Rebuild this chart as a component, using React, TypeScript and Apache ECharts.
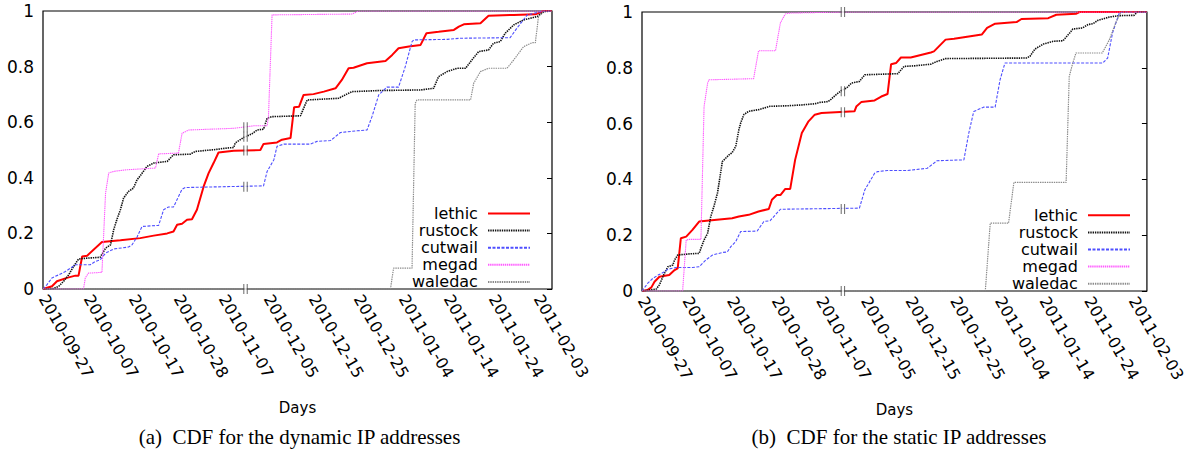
import React, { useEffect, useRef } from 'react';
import * as echarts from 'echarts';

// ---------- data ----------
const TICK_LABELS = ['2010-09-27', '2010-10-07', '2010-10-17', '2010-10-28', '2010-11-07', '2010-12-05', '2010-12-15', '2010-12-25', '2011-01-04', '2011-01-14', '2011-01-24', '2011-02-03'];
const X_MAX = 11.31; // axis extends slightly past last tick
const BREAK_X = 4.5; // axis break between 2010-11-07 and 2010-12-05
const SERIES_NAMES = ['lethic', 'rustock', 'cutwail', 'megad', 'waledac'];
const CAPTIONS = ['(a)  CDF for the dynamic IP addresses', '(b)  CDF for the static IP addresses'];
const X_NAME = 'Days';

// (a) dynamic IP addresses: [tick position, CDF]
const dynLethic = [[0,0],[0.2,0.01],[0.31,0.028],[0.53,0.04],[0.72,0.048],[0.79,0.048],[0.87,0.117],[0.98,0.12],[1.31,0.169],[1.72,0.175],[2.16,0.183],[2.46,0.192],[2.76,0.2],[2.9,0.207],[2.98,0.231],[3.09,0.235],[3.2,0.249],[3.31,0.251],[3.42,0.285],[3.57,0.369],[3.68,0.417],[3.79,0.453],[3.9,0.491],[4.24,0.497],[4.83,0.5],[4.9,0.522],[5.2,0.527],[5.31,0.537],[5.5,0.543],[5.58,0.654],[5.69,0.656],[5.79,0.698],[6.01,0.701],[6.24,0.71],[6.5,0.722],[6.64,0.752],[6.79,0.794],[6.9,0.796],[7.2,0.812],[7.61,0.82],[7.76,0.842],[7.9,0.866],[8.13,0.872],[8.39,0.878],[8.52,0.92],[8.79,0.925],[9.13,0.932],[9.24,0.944],[9.35,0.952],[9.72,0.956],[9.9,0.983],[10.46,0.986],[10.94,0.988],[11.13,1.0],[11.31,1.0]];
const dynRustock = [[0,0],[0.24,0.002],[0.35,0.01],[0.46,0.028],[0.57,0.051],[0.68,0.081],[0.79,0.108],[0.98,0.111],[1.27,0.114],[1.39,0.147],[1.5,0.159],[1.57,0.213],[1.64,0.249],[1.72,0.285],[1.79,0.327],[1.9,0.351],[2.01,0.363],[2.09,0.393],[2.16,0.407],[2.31,0.441],[2.46,0.453],[2.76,0.459],[2.9,0.483],[3.27,0.485],[3.39,0.495],[3.79,0.501],[4.09,0.507],[4.24,0.509],[4.27,0.525],[4.46,0.545],[4.64,0.558],[4.76,0.572],[4.9,0.575],[4.98,0.614],[5.09,0.62],[5.72,0.623],[5.87,0.68],[6.57,0.686],[6.75,0.701],[6.87,0.71],[7.5,0.714],[8.39,0.716],[8.68,0.722],[8.79,0.764],[8.98,0.782],[9.2,0.794],[9.39,0.794],[9.53,0.824],[9.68,0.854],[9.9,0.86],[10.01,0.884],[10.16,0.89],[10.27,0.92],[10.46,0.95],[10.68,0.968],[10.98,0.98],[11.13,0.998],[11.31,1.0]];
const dynCutwail = [[0,0],[0.09,0.016],[0.2,0.04],[0.35,0.051],[0.5,0.063],[0.61,0.075],[0.72,0.087],[1.05,0.087],[1.16,0.099],[1.27,0.105],[1.39,0.129],[1.57,0.144],[1.9,0.151],[1.98,0.159],[2.09,0.187],[2.2,0.225],[2.57,0.229],[2.68,0.285],[2.79,0.295],[2.9,0.295],[3.09,0.359],[3.16,0.365],[4.9,0.371],[4.98,0.423],[5.13,0.465],[5.2,0.513],[5.35,0.521],[5.94,0.521],[6.09,0.531],[6.39,0.534],[6.61,0.563],[6.98,0.569],[7.2,0.572],[7.31,0.62],[7.46,0.698],[7.64,0.726],[7.9,0.726],[8.05,0.8],[8.2,0.89],[8.24,0.896],[8.98,0.898],[9.27,0.902],[10.38,0.904],[10.53,0.938],[10.76,0.986],[11.13,1.0],[11.31,1.0]];
const dynMegad = [[0,0],[0.9,0],[0.94,0.04],[1.01,0.057],[1.31,0.06],[1.39,0.345],[1.46,0.417],[1.57,0.423],[1.87,0.429],[2.5,0.435],[2.57,0.486],[3.01,0.489],[3.09,0.56],[3.24,0.572],[4.24,0.578],[4.68,0.587],[4.98,0.587],[5.01,0.62],[5.09,0.986],[6.87,0.989],[7.01,1.0],[11.31,1.0]];
const dynWaledac = [[0,0],[7.72,0],[7.79,0.075],[8.2,0.075],[8.27,0.668],[8.31,0.68],[9.5,0.68],[9.57,0.74],[9.72,0.782],[9.9,0.794],[10.31,0.794],[10.46,0.824],[10.68,0.872],[10.87,0.886],[10.94,0.886],[11.01,0.98],[11.13,1.0],[11.31,1.0]];
const dynBreakY = [0.498, 0.548, 0.368, 0.582, 0];

// (b) static IP addresses
const staLethic = [[0,0],[0.13,0.004],[0.21,0.013],[0.28,0.033],[0.39,0.051],[0.61,0.057],[0.73,0.075],[0.8,0.081],[0.87,0.189],[0.99,0.195],[1.13,0.219],[1.28,0.249],[1.39,0.251],[2.02,0.261],[2.17,0.267],[2.39,0.273],[2.61,0.285],[2.84,0.294],[2.91,0.327],[3.02,0.344],[3.1,0.344],[3.21,0.366],[3.32,0.366],[3.43,0.47],[3.58,0.566],[3.73,0.608],[3.87,0.632],[4.02,0.638],[4.76,0.644],[4.8,0.661],[4.91,0.677],[5.21,0.683],[5.36,0.697],[5.5,0.706],[5.58,0.813],[5.69,0.817],[5.8,0.837],[6.02,0.837],[6.47,0.855],[6.54,0.859],[6.8,0.901],[6.99,0.904],[7.43,0.915],[7.61,0.919],[7.73,0.943],[7.91,0.958],[8.39,0.964],[8.5,0.975],[9.1,0.978],[9.28,0.99],[9.73,0.994],[9.8,1.0],[11.31,1.0]];
const staRustock = [[0,0],[0.32,0.007],[0.39,0.022],[0.5,0.063],[0.58,0.087],[0.69,0.093],[0.73,0.111],[0.8,0.129],[1.06,0.133],[1.28,0.135],[1.32,0.153],[1.39,0.183],[1.47,0.207],[1.54,0.267],[1.61,0.303],[1.69,0.35],[1.8,0.464],[1.95,0.488],[2.02,0.496],[2.1,0.518],[2.17,0.578],[2.21,0.602],[2.28,0.632],[2.39,0.644],[2.61,0.65],[2.87,0.662],[3.28,0.664],[3.58,0.667],[3.87,0.671],[3.99,0.676],[4.17,0.679],[4.24,0.688],[4.32,0.7],[4.47,0.719],[4.58,0.727],[4.69,0.745],[4.87,0.751],[4.99,0.775],[5.73,0.779],[5.87,0.805],[6.1,0.807],[6.47,0.813],[6.61,0.823],[6.8,0.833],[8.61,0.835],[8.69,0.841],[8.8,0.867],[8.99,0.885],[9.21,0.895],[9.43,0.897],[9.58,0.925],[9.65,0.939],[9.87,0.943],[9.99,0.955],[10.1,0.958],[10.21,0.97],[10.47,0.982],[10.69,0.987],[11.02,0.988],[11.1,1.0],[11.31,1.0]];
const staCutwail = [[0,0],[0.13,0.028],[0.24,0.045],[0.36,0.057],[0.47,0.066],[0.58,0.078],[0.76,0.084],[1.13,0.084],[1.28,0.087],[1.43,0.111],[1.58,0.129],[1.8,0.138],[1.91,0.14],[1.99,0.159],[2.1,0.177],[2.21,0.213],[2.58,0.215],[2.65,0.231],[2.73,0.249],[2.87,0.252],[3.02,0.279],[3.1,0.293],[4.87,0.297],[4.99,0.362],[5.1,0.392],[5.21,0.422],[5.28,0.428],[5.5,0.432],[5.94,0.432],[6.39,0.44],[6.61,0.467],[7.21,0.47],[7.32,0.566],[7.43,0.643],[7.65,0.659],[7.91,0.659],[8.02,0.757],[8.13,0.817],[10.32,0.817],[10.43,0.835],[10.54,0.925],[10.69,0.996],[10.76,1.0],[11.31,1.0]];
const staMegad = [[0,0],[0.91,0],[0.99,0.183],[1.06,0.185],[1.32,0.185],[1.39,0.661],[1.47,0.745],[1.5,0.757],[2.5,0.761],[2.61,0.861],[2.99,0.861],[3.1,0.961],[3.21,0.993],[3.28,0.996],[4.5,1.0],[11.31,1.0]];
const staWaledac = [[0,0],[7.69,0],[7.8,0.243],[8.21,0.243],[8.33,0.389],[9.5,0.389],[9.57,0.769],[9.65,0.817],[9.72,0.853],[10.31,0.853],[10.47,0.901],[10.61,0.961],[10.73,1.0],[11.31,1.0]];
const staBreakY = [0.641, 0.716, 0.294, 1.0, 0];

const PANELS = [
  { series: [dynLethic, dynRustock, dynCutwail, dynMegad, dynWaledac], breaks: dynBreakY },
  { series: [staLethic, staRustock, staCutwail, staMegad, staWaledac], breaks: staBreakY },
];

// ---------- styles / layout ----------
const SANS = "'DejaVu Sans', sans-serif";
const SERIF = "'Liberation Serif', 'Times New Roman', serif";
const LINE_STYLES: Record<string, any> = {
  lethic: { color: '#ff0000', width: 2, type: 'solid' },
  rustock: { color: '#111111', width: 1.6, type: [1.4, 0.9] },
  cutwail: { color: '#4f4fff', width: 1.1, type: [3, 1.5] },
  megad: { color: '#ff5cff', width: 1.1, type: [1.4, 0.7] },
  waledac: { color: '#8a8a8a', width: 1.2, type: [1.4, 0.9] },
};
const GRIDS = [
  { left: 43, top: 11, width: 509, height: 278, legendTop: 205.5 },
  { left: 642, top: 12, width: 510, height: 279, legendTop: 207.3 },
];

function buildOption() {
  const grid: any[] = [];
  const xAxis: any[] = [];
  const yAxis: any[] = [];
  const series: any[] = [];
  const legend: any[] = [];
  const graphic: any[] = [];

  GRIDS.forEach((g, gi) => {
    grid.push({ left: g.left, top: g.top, width: g.width, height: g.height, show: true, borderColor: '#000', borderWidth: 1.2, backgroundColor: 'transparent', containLabel: false });
    xAxis.push({
      type: 'value', gridIndex: gi, min: 0, max: X_MAX, interval: 1,
      axisLine: { show: false }, axisTick: { show: false }, splitLine: { show: false },
      axisLabel: {
        rotate: -60, margin: 7, fontSize: 16, color: '#000', fontFamily: SANS,
        showMaxLabel: false,
        formatter: (v: number) => (Number.isInteger(v) && TICK_LABELS[v]) ? TICK_LABELS[v] : '',
      },
      name: X_NAME, nameLocation: 'middle', nameGap: 111,
      nameTextStyle: { fontSize: 15, color: '#000', fontFamily: SANS },
    });
    yAxis.push({
      type: 'value', gridIndex: gi, min: 0, max: 1, interval: 0.2, position: 'left',
      axisLine: { show: false }, axisTick: { show: false }, splitLine: { show: false },
      axisLabel: { fontSize: 17, color: '#000', fontFamily: SANS, margin: 9 },
    });
    yAxis.push({
      type: 'value', gridIndex: gi, min: 0, max: 1, interval: 0.2, position: 'right',
      axisLine: { show: false }, splitLine: { show: false }, axisLabel: { show: false },
      axisTick: { show: true, inside: true, length: 5, lineStyle: { color: '#000', width: 1 } },
    });

    const panel = PANELS[gi];
    SERIES_NAMES.forEach((name, si) => {
      const ls = LINE_STYLES[name];
      series.push({
        type: 'line', name, xAxisIndex: gi, yAxisIndex: gi * 2,
        data: panel.series[si], showSymbol: false, symbol: 'none',
        lineStyle: { color: ls.color, width: ls.width, type: ls.type },
        itemStyle: { color: ls.color },
        z: 2 + si * 0.01,
      });
    });
    const breakData = panel.breaks.map((y) => [BREAK_X, y]);
    series.push({
      type: 'scatter', name: 'break-bg', xAxisIndex: gi, yAxisIndex: gi * 2,
      data: breakData, symbol: 'rect', symbolSize: [2.5, 9],
      itemStyle: { color: '#ffffff' }, z: 5, silent: true,
    });
    series.push({
      type: 'scatter', name: 'break', xAxisIndex: gi, yAxisIndex: gi * 2,
      data: breakData, symbol: 'path://M0,0h1v10h-1zM3.4,0h1v10h-1z', symbolSize: [4.4, 10],
      itemStyle: { color: '#444444' }, z: 6, silent: true,
    });

    const iconRight = g.left + g.width - 21;
    SERIES_NAMES.forEach((name, si) => {
      legend.push({
        data: [name], orient: 'vertical', align: 'right',
        right: 1188 - iconRight, top: g.legendTop + si * 17.1, padding: 0,
        itemWidth: 42, itemHeight: 10,
        itemStyle: { color: 'transparent', borderColor: 'transparent', borderWidth: 0 },
        formatter: (n: string) => n + ' ',
        textStyle: { fontSize: 16, color: '#000', fontFamily: SANS },
        selectedMode: false,
      });
    });

    graphic.push({
      type: 'text', x: g.left + g.width / 2 + 2, y: 437,
      style: { text: CAPTIONS[gi], fill: '#000', font: `21px ${SERIF}`, textAlign: 'center', textVerticalAlign: 'middle' },
    });
  });

  return { animation: false, backgroundColor: '#ffffff', grid, xAxis, yAxis, series, legend, graphic };
}

export default function App() {
  const ref = useRef<HTMLDivElement>(null);
  useEffect(() => {
    if (!ref.current) return;
    const chart = echarts.init(ref.current, undefined, { renderer: 'svg' });
    chart.setOption(buildOption() as any);
    return () => chart.dispose();
  }, []);
  return <div ref={ref} style={{ position: 'absolute', left: 0, top: 0, width: 1188, height: 451 }} />;
}
